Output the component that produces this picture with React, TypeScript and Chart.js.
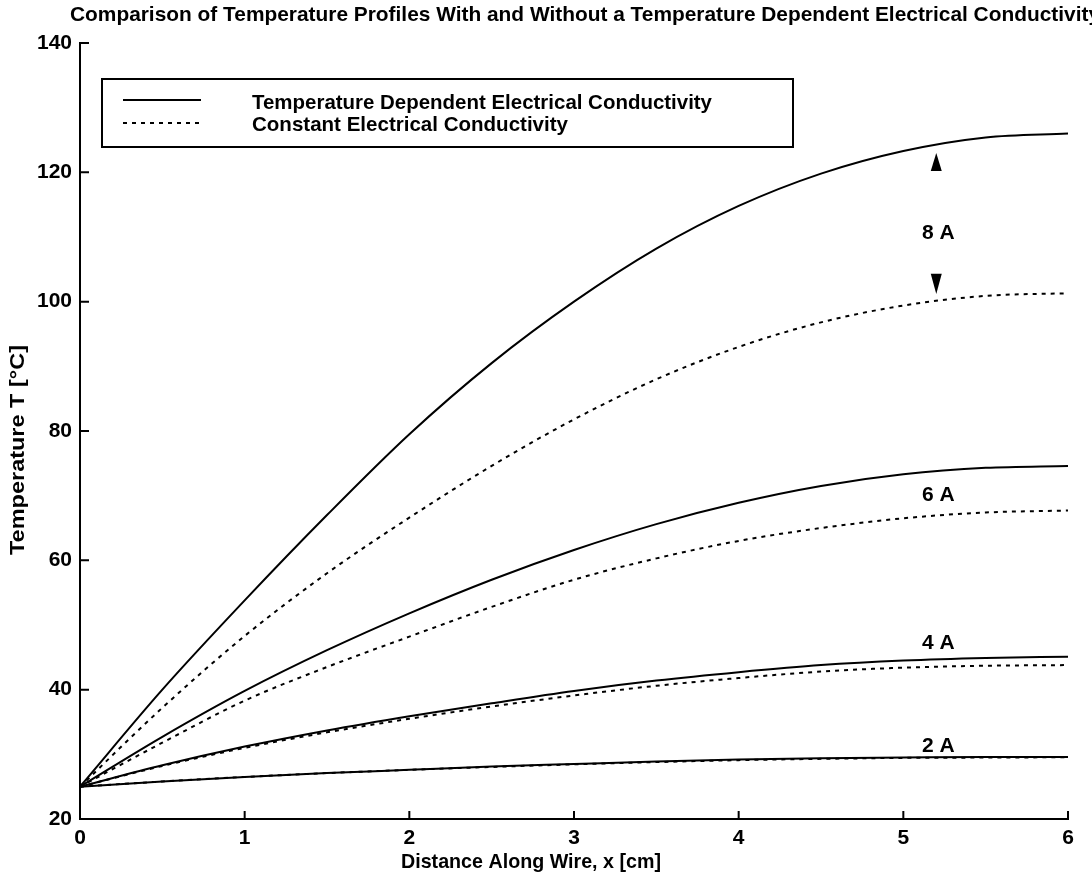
import { useEffect, useRef } from "react";
import { Chart, registerables } from "chart.js";

Chart.register(...registerables);

// Position along the wire [cm]
const distanceCm = [0, 0.5, 1, 1.5, 2, 2.5, 3, 3.5, 4, 4.5, 5, 5.5, 6];

// Temperatures [°C], temperature-dependent electrical conductivity
const variable8A = [25, 40.0, 53.8, 67.0, 79.5, 90.5, 100.0, 108.2, 114.8, 119.8, 123.3, 125.4, 126.0];
const variable6A = [25, 32.7, 39.8, 46.1, 51.8, 57.0, 61.6, 65.6, 68.9, 71.5, 73.3, 74.3, 74.6];
const variable4A = [25, 28.3, 31.2, 33.7, 35.9, 37.9, 39.8, 41.4, 42.7, 43.8, 44.5, 44.9, 45.1];
const variable2A = [25, 25.8, 26.5, 27.1, 27.6, 28.1, 28.5, 28.9, 29.2, 29.4, 29.5, 29.6, 29.6];

// Temperatures [°C], constant electrical conductivity
const constant8A = [25, 37.2, 48.3, 58.0, 66.6, 74.6, 81.8, 88.0, 93.0, 96.8, 99.4, 100.9, 101.3];
const constant6A = [25, 31.8, 38.3, 43.5, 48.2, 52.8, 57.0, 60.3, 63.0, 65.0, 66.5, 67.4, 67.7];
const constant4A = [25, 28.2, 31.0, 33.4, 35.5, 37.4, 39.1, 40.6, 41.8, 42.8, 43.4, 43.7, 43.8];
const constant2A = [25, 25.8, 26.5, 27.1, 27.6, 28.05, 28.45, 28.8, 29.1, 29.3, 29.45, 29.5, 29.55];

const seriesNames = [
  "Temperature Dependent Electrical Conductivity",
  "Constant Electrical Conductivity",
];
const currentLabels = ["8 A", "6 A", "4 A", "2 A"];
const xTicks = [0, 1, 2, 3, 4, 5, 6];
const yTicks = [20, 40, 60, 80, 100, 120, 140];

const chartTitle =
  "Comparison of Temperature Profiles With and Without a Temperature Dependent Electrical Conductivity";
const xTitle = "Distance Along Wire, x [cm]";
const yTitle = "Temperature T [°C]";

const FONT = "'Liberation Sans', Arial, Helvetica, sans-serif";
const DASH = [4, 5];

const toPoints = (ys: number[]) => ys.map((y, i) => ({ x: distanceCm[i], y }));

const solid = (ys: number[]) => ({
  label: seriesNames[0],
  data: toPoints(ys),
  borderColor: "#000",
  borderWidth: 2,
  pointRadius: 0,
  cubicInterpolationMode: "monotone" as const,
});
const dashed = (ys: number[]) => ({
  label: seriesNames[1],
  data: toPoints(ys),
  borderColor: "#000",
  borderWidth: 2,
  borderDash: DASH,
  pointRadius: 0,
  cubicInterpolationMode: "monotone" as const,
});

// Text drawn with a horizontal squeeze/stretch so it spans the given width
function fittedText(
  ctx: CanvasRenderingContext2D,
  text: string,
  x: number,
  y: number,
  width: number,
  align: "left" | "center"
) {
  const w = ctx.measureText(text).width;
  const k = width / w;
  ctx.save();
  ctx.translate(x, y);
  ctx.scale(k, 1);
  ctx.textAlign = align;
  ctx.fillText(text, 0, 0);
  ctx.restore();
}

// Draws the inward ticks, the boxed legend, the current labels and arrows, and titles
const decorations = {
  id: "decorations",
  afterDraw(chart: any) {
    const { ctx, chartArea, scales } = chart;
    const xs = scales.x;
    const ys = scales.y;
    ctx.save();
    ctx.fillStyle = "#000";
    ctx.strokeStyle = "#000";

    // inward tick marks
    ctx.lineWidth = 2;
    ctx.beginPath();
    for (const t of xTicks) {
      const px = xs.getPixelForValue(t);
      ctx.moveTo(px, chartArea.bottom);
      ctx.lineTo(px, chartArea.bottom - 8);
    }
    for (const t of yTicks) {
      const py = ys.getPixelForValue(t);
      ctx.moveTo(chartArea.left, py);
      ctx.lineTo(chartArea.left + 9, py);
    }
    ctx.stroke();

    ctx.font = `bold 21px ${FONT}`;
    ctx.textBaseline = "middle";

    // chart title
    fittedText(ctx, chartTitle, 70, 15, 1030, "left");

    // axis titles
    fittedText(ctx, xTitle, 531, 862, 260, "center");
    ctx.save();
    ctx.translate(18, 450);
    ctx.rotate(-Math.PI / 2);
    fittedText(ctx, yTitle, 0, 0, 210, "center");
    ctx.restore();

    // legend
    const lx = chartArea.left + 22;
    const ly = chartArea.top + 36;
    ctx.lineWidth = 2;
    ctx.strokeRect(lx, ly, 691, 68);
    ctx.beginPath();
    ctx.moveTo(lx + 21, ly + 21);
    ctx.lineTo(lx + 99, ly + 21);
    ctx.stroke();
    ctx.setLineDash(DASH);
    ctx.beginPath();
    ctx.moveTo(lx + 21, ly + 44);
    ctx.lineTo(lx + 97, ly + 44);
    ctx.stroke();
    ctx.setLineDash([]);
    fittedText(ctx, seriesNames[0], lx + 150, ly + 24, 460, "left");
    fittedText(ctx, seriesNames[1], lx + 150, ly + 46, 316, "left");

    // current labels
    const labelX = xs.getPixelForValue(5.2);
    const labelY = [110.6, 70, 47.2, 31.3];
    ctx.textAlign = "center";
    currentLabels.forEach((s, i) => {
      ctx.fillText(s, labelX + 2, ys.getPixelForValue(labelY[i]));
    });

    // arrows pointing at the 8 A curves
    const tri = (tipVal: number, baseVal: number) => {
      const tip = ys.getPixelForValue(tipVal);
      const base = ys.getPixelForValue(baseVal);
      ctx.beginPath();
      ctx.moveTo(labelX, tip);
      ctx.lineTo(labelX - 5.5, base);
      ctx.lineTo(labelX + 5.5, base);
      ctx.closePath();
      ctx.fill();
    };
    tri(123.0, 120.2);
    tri(101.2, 104.3);

    ctx.restore();
  },
};

export default function App() {
  const canvasRef = useRef<HTMLCanvasElement | null>(null);

  useEffect(() => {
    const canvas = canvasRef.current;
    if (!canvas) return;
    const chart = new Chart(canvas, {
      type: "line",
      data: {
        datasets: [
          dashed(constant2A),
          solid(variable2A),
          dashed(constant4A),
          solid(variable4A),
          dashed(constant6A),
          solid(variable6A),
          dashed(constant8A),
          solid(variable8A),
        ],
      },
      options: {
        responsive: false,
        animation: false,
        devicePixelRatio: 1,
        layout: { padding: { top: 43, right: 24, left: 0, bottom: 0 } },
        plugins: {
          legend: { display: false },
          title: { display: false },
          tooltip: { enabled: false },
        },
        scales: {
          x: {
            type: "linear",
            min: 0,
            max: 6,
            afterFit: (s: any) => {
              s.height = 62;
            },
            afterBuildTicks: (s: any) => {
              s.ticks = xTicks.map((v) => ({ value: v }));
            },
            ticks: {
              color: "#000",
              font: { family: FONT, size: 21, weight: "bold" },
              padding: 7,
              maxRotation: 0,
            },
            grid: { display: true, drawOnChartArea: false, drawTicks: false },
            border: { display: true, color: "#000", width: 2 },
          },
          y: {
            type: "linear",
            min: 20,
            max: 140,
            afterFit: (s: any) => {
              s.width = 80;
            },
            afterBuildTicks: (s: any) => {
              s.ticks = yTicks.map((v) => ({ value: v }));
            },
            ticks: {
              color: "#000",
              font: { family: FONT, size: 21, weight: "bold" },
              padding: 8,
            },
            grid: { display: true, drawOnChartArea: false, drawTicks: false },
            border: { display: true, color: "#000", width: 2 },
          },
        },
      },
      plugins: [decorations],
    });
    return () => chart.destroy();
  }, []);

  return (
    <div
      style={{
        position: "fixed",
        left: 0,
        top: 0,
        width: 1092,
        height: 881,
        background: "#fff",
      }}
    >
      <canvas ref={canvasRef} width={1092} height={881} />
    </div>
  );
}
